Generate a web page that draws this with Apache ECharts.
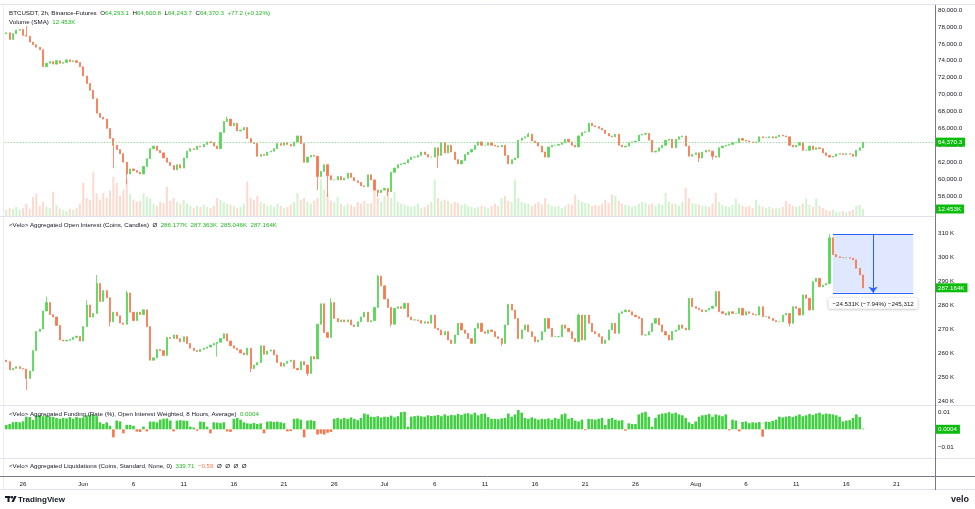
<!DOCTYPE html>
<html><head><meta charset="utf-8">
<script src="https://cdn.jsdelivr.net/npm/echarts@6/dist/echarts.min.js"></script>
<style>html,body{margin:0;padding:0;background:#fff}#c{width:975px;height:509px}</style>
</head><body><div id="c"></div>
<script>
// ---- data (8h candles, May 24 08:00 .. Aug 17 16:00) ----
const priceOpen0 = 77200;
const priceClose = [
77300,76500,
77200,77600,77700, 77000,76900,76200, 75900,75600,75300, 73300,73700,73900, 73600,74000,73700,
73800,74100,73900, 74000,73800,73300, 72200,71300,70500, 69500,67800,67300, 67100,66000,64800,
64000,63500,63000, 62000,60600,61200, 61000,60800,60600, 61500,62400,63600, 63900,63400,63100,
62500,62000,61600, 61100,61700,61300, 62500,63300,63600, 63500,63900,63800, 64100,64400,64300,
63900,63600,65500, 66800,67100,66300, 66600,65700,65800, 66100,64800,64300, 64200,62700,62900,
62800,63200,63300, 63600,64200,64000, 64300,64100,63900, 64400,65100,64200, 62000,62600,62800,
62700,60300,60900, 61700,60400,59900, 59900,60300,59900, 60100,60700,60200, 59800,59600,59200,
59100,60500,59900, 58700,58400,58700, 58900,58500,60800, 61300,61700,61800, 61900,62300,62600,
62600,62800,63200, 62900,62600,62600, 63700,62800,64300, 63100,64000,63200, 62300,61800,62200,
62900,63200,63500, 64000,64400,64000, 64000,64300,64000, 63900,63800,64000, 62800,61800,62300,
62500,64600,64850, 65000,65300,64500, 64300,63900,63200, 62600,63800,64000, 64000,64100,64300,
64700,64400,64000, 63800,65100,65500, 65600,66600,66300, 66200,66000,65800, 65400,65100,65000,
65300,64000,63800, 63900,64300,64400, 64500,65200,65300, 65400,64600,63200, 63300,63700,64000,
64600,64700,63700, 64700,65000,65100, 63900,62700,62900, 63100,62500,63200, 63400,63300,62700,
62600,63700,63900, 64000,64100,64300, 64300,64800,64600, 64500,64400,64300, 64400,65000,64900,
64900,65000,64850, 65000,65200,65100, 65000,64000,63800, 64000,64300,63400, 63400,63900,63500,
63700,63600,63100, 62800,62600,62700, 62950,63000,62900, 63000,62950,62700, 63400,63700,64370.3
];
const priceLowWicks = [[32,61300],[36,59400],[93,58700],[96,57900],[111,57900],[114,58000],[129,61300],[207,62000],[211,62300]];
const priceHighWicks = [[6,78100],[66,67400],[156,65500]];

const oiOpen0 = 257.0;
const oiClose = [
256.4,253.0,
253.6,254.3,253.5, 253.3,249.4,252.5, 261,269,270, 277.5,281,276, 275,271.5,265.4,
265,265.3,265.6, 266.5,267,265, 271,280,275, 276.5,289,281.5, 286,283,273,
277,275.5,272.5, 272,285,277, 273.5,277,276, 278,271,257, 258,261.5,261,
259,266.5,266, 267.5,266,264.7, 266.8,264,262, 261,260.6,261.5, 262,262.5,263.3,
264,264.5,266, 268,265,263, 262,261.3,260, 259.2,262,253.5, 255,256,263,
259.5,260.8,261.3, 259.2,256,254.5, 255.7,256.5,257, 253.6,253,256.4, 255,251.5,258.5,
257.5,272,280.5, 268.5,266.5,281, 274.4,273,273.8, 273,273.8,271.7, 271,273,275,
277,273,273.5, 279,292,288, 282.5,279,272, 278.6,279.3,278.6, 280.7,275,273.8,
273.8,273.5,272.4, 273,272.4,275.8, 270.3,269.6,267.5, 268.9,265.4,264, 267.5,272.4,269.6,
268.2,266,264, 270.3,272.4,268.9, 268.2,269.6,268.9, 266.8,266,264, 271.7,280.3,277.9,
274.4,266,269.6, 271.7,268.9,266.8, 264.7,265.4,268.9, 274.4,270.3,266.8, 266.8,266.8,271.7,
270.3,268.9,266, 264.7,275.8,265.4, 275.8,272.4,268.9, 268,266.8,264, 265.4,269.6,272.4,
268.2,276.5,277.2, 277.9,277.2,275.8, 275.1,274.4,267.5, 267.5,268.9,272.4, 274.4,271.7,268.9,
267.5,265.4,269, 269.6,271.7,270.3, 269.6,282.8,279.3, 278.6,278,277.2, 277.9,278.6,279.5,
285.6,277.2,276.5, 275.8,277.2,276.5, 276.5,278.6,275.8, 277.2,276.5,276, 275.8,279.3,275.1,
275.1,274.4,273.5, 273,273,275.8, 276.5,272.4,279.3, 278.6,275.8,284.2, 282.8,277.9,289.7,
291.1,287.6,288.3, 289,308,301, 300.1,299.8,299.7, 299.7,299.5,298.8, 295.3,292.5,287.164
];
const oiLowWicks = [[6,244.6],[31,271],[63,258.5],[73,252],[90,250.5],[115,271],[148,263],[234,271]];
const oiHighWicks = [[12,283.5],[24,282],[27,292.5],[36,286],[97,282.8],[111,292.5],[171,276.5],[246,309.6]];

const volumeK = [
11,14,
13,16,11, 14,22,13, 34,40,18, 25,16,14, 43,20,13,
11,9,13, 11,14,22, 59,32,29, 79,40,29, 41,32,45,
70,59,36, 47,65,40, 29,25,27, 40,34,31, 22,18,25,
23,52,27, 32,25,22, 29,22,18, 14,18,16, 20,16,14,
18,32,29, 25,22,20, 18,14,16, 22,61,32, 29,36,25,
22,18,20, 16,22,18, 14,16,20, 25,41,29, 32,25,22,
27,32,65, 47,40,27, 25,34,22, 18,22,20, 16,25,22,
27,22,23, 52,32,25, 36,47,32, 43,25,22, 20,18,16,
18,22,14, 16,20,25, 65,32,27, 29,27,22, 25,23,20,
22,18,16, 14,16,18, 16,14,18, 22,18,32, 36,27,25,
65,32,25, 23,22,18, 22,25,20, 32,22,18, 16,18,14,
18,22,20, 38,29,25, 23,22,18, 20,18,22, 29,23,38,
36,27,22, 20,18,16, 18,22,25, 23,20,22, 18,22,20,
41,25,22, 22,18,25, 50,32,23, 22,20,18, 18,16,22,
41,25,20, 18,16,20, 31,22,18, 16,18,14, 29,20,16,
14,16,14, 13,14,16, 27,22,18, 16,18,22, 31,20,16,
31,18,14, 11,9,11, 7,7,9, 7,9,11, 18,20,12.453
];

const fundingRate = [
0.0025,0.003,
0.004,0.0042,0.004, 0.0045,0.0072,0.007, 0.0053,0.0078,0.008, 0.0075,0.008,0.0072, 0.007,0.0065,0.006,
0.0065,0.0062,0.007, 0.006,0.007,0.0065, 0.0068,0.008,0.0082, 0.0085,0.0075,0.004, 0.003,0.004,0.002,
-0.0046,0.005,0.0045, -0.0023,0.0025,0.0025, 0.002,-0.0013,-0.0015, 0.0015,-0.0012,0.0044, 0.0044,0.004,0.0055,
0.006,0.0062,0.005, -0.0012,0.005,0.0052, 0.005,0.0048,0.0015, 0.001,-0.0008,0.0044, 0.0042,0.0015,-0.0023,
0.004,0.0038,0.0035, 0.004,-0.0012,-0.0015, 0.006,0.0065,0.0055, 0.004,0.0034,0.0032, 0.0036,0.003,0.0034,
-0.0023,0.0044,0.0045, 0.0042,0.0044,0.004, 0.0035,-0.0012,-0.001, 0.006,0.0062,0.0055, -0.0046,0.005,0.0052,
0.0048,-0.003,-0.0025, -0.003,-0.002,-0.0015, 0.006,0.0065,0.0058, 0.0065,0.006,0.0068, 0.006,0.0052,0.0065,
0.009,0.0085,0.0072, 0.007,0.0075,0.0068, 0.0072,0.007,0.0078, 0.0068,0.0075,0.0098, 0.01,0.0015,0.0072,
0.0075,0.0078,0.0074, 0.0072,0.008,0.0076, 0.0078,0.0082,0.0075, 0.0085,0.0078,0.0082, 0.008,0.0088,0.0082,
0.009,0.0092,0.0085, 0.0095,0.008,0.0088, 0.009,0.007,0.006, 0.006,0.0058,0.0062, 0.0065,0.009,0.0072,
0.0085,0.011,0.0095, 0.0065,0.006,0.0068, 0.0062,0.0055,0.006, 0.0058,0.0062,0.0055, 0.0065,0.006,0.0085,
0.009,0.006,0.0065, 0.005,0.0045,0.0055, -0.0005,0.006,0.0058, 0.0055,0.006,0.0065, 0.0025,0.006,0.0065,
0.0055,0.005,0.0052, -0.0008,0.0034,0.003, 0.003,0.0085,0.0095, 0.01,0.0072,0.0015, 0.0065,0.0085,0.009,
0.0092,0.0098,0.009, 0.0095,0.0085,0.008, 0.0065,0.004,0.003, 0.0045,0.0072,0.008, 0.0082,0.0088,0.0072,
0.0085,0.008,0.0075, 0.0085,-0.0006,0.0055, 0.005,-0.0012,0.0042, 0.0045,0.0035,0.004, 0.0038,0.0042,-0.0042,
0.0044,0.0042,0.0048, 0.0055,0.0072,0.0068, 0.0072,0.0075,0.007, 0.0078,0.0085,0.0075, 0.008,0.0088,0.0082,
0.009,0.0095,0.0085, 0.009,0.0088,0.0085, 0.008,0.0072,0.0045, 0.005,0.0052,0.0065, 0.0085,0.007,0.0004
];

const tickLabels = [['05-26','26'],['06-01','Jun'],['06-06','6'],['06-11','11'],['06-16','16'],['06-21','21'],
 ['06-26','26'],['07-01','Jul'],['07-06','6'],['07-11','11'],['07-16','16'],['07-21','21'],['07-26','26'],
 ['08-01','Aug'],['08-06','6'],['08-11','11'],['08-16','16'],['08-21','21']];

const lastPrice = 64370.3, lastVolume = 12.453, lastOI = 287.164, lastFunding = 0.0004;
const measureStartIdx = 247, measureEndIdx = 271, measureArrowIdx = 259;
const measureTop = 309.6, measureChange = -24.531;

// ---- build ----
const NCAT = 278;
const cats = [];
const t0 = Date.UTC(2024, 4, 24, 8);
const pad = n => String(n).padStart(2, '0');
for (let i = 0; i < NCAT; i++) {
  const d = new Date(t0 + i * 8 * 3600e3);
  cats.push(pad(d.getUTCMonth() + 1) + '-' + pad(d.getUTCDate()) + ' ' + pad(d.getUTCHours()));
}
const tickMap = new Map(tickLabels.map(([k, v]) => [k + ' 00', v]));

function buildCandles(closes, open0, lows, highs) {
  const out = closes.map((c, i) => {
    const o = i === 0 ? open0 : closes[i - 1];
    return [o, c, Math.min(o, c), Math.max(o, c)];
  });
  lows.forEach(([i, v]) => { out[i][2] = Math.min(out[i][2], v); });
  highs.forEach(([i, v]) => { out[i][3] = Math.max(out[i][3], v); });
  return out;
}
const priceCandles = buildCandles(priceClose, priceOpen0, priceLowWicks, priceHighWicks);
const oiCandles = buildCandles(oiClose, oiOpen0, oiLowWicks, oiHighWicks);

const UP = '#55d655', DOWN = '#f7784e';
const UPV = 'rgba(85,214,85,0.28)', DOWNV = 'rgba(247,120,78,0.28)';
const TXT = '#131722', GTXT = '#22b822', BADGE = '#0dbd0d';
const FONT = '"Liberation Sans", Arial, sans-serif';
const FS = 6.2;
const HIDE = 'rgba(0,0,0,0)';

const volumeData = volumeK.map((v, i) => ({ value: v, itemStyle: { color: priceCandles[i][1] >= priceCandles[i][0] ? UPV : DOWNV } }));
const fundingData = fundingRate.map(v => ({ value: v, itemStyle: { color: v >= 0 ? '#3fcf3f' : DOWN } }));

const L = 4.6, R = 40;
const badge = (txt) => ({
  show: true, position: 'end', distance: 1, formatter: txt,
  backgroundColor: BADGE, color: '#fff', fontSize: FS, fontFamily: FONT,
  padding: [2, 3, 1, 2], borderRadius: 0, opacity: 1
});

const chart = echarts.init(document.getElementById('c'), null, { renderer: 'canvas' });
const xBase = { type: 'category', data: cats, boundaryGap: true, axisLine: { show: false }, axisTick: { show: false }, axisLabel: { show: false }, splitLine: { show: false } };
const fmtPrice = v => v.toLocaleString('en-US', { minimumFractionDigits: 1, maximumFractionDigits: 1 });

chart.setOption({
  animation: false,
  backgroundColor: '#fff',
  grid: [
    { left: L, right: R, top: 5, height: 224.8 },
    { left: L, right: R, top: 5, height: 211 },
    { left: L, right: R, top: 217, height: 208 },
    { left: L, right: R, top: 406, height: 58.3 },
    { left: L, right: R, top: 459, height: 17 }
  ],
  xAxis: [
    Object.assign({ gridIndex: 0 }, xBase),
    Object.assign({ gridIndex: 1 }, xBase),
    Object.assign({ gridIndex: 2 }, xBase),
    Object.assign({ gridIndex: 3 }, xBase),
    Object.assign({}, xBase, {
      gridIndex: 4,
      axisLabel: {
        show: true, interval: (idx, val) => tickMap.has(val), formatter: val => tickMap.get(val) || '',
        color: TXT, fontSize: FS, fontFamily: FONT, margin: 5
      }
    })
  ],
  yAxis: [
    { gridIndex: 0, position: 'right', min: 54000, max: 80591, interval: 2000, splitLine: { show: false },
      axisLine: { show: false }, axisTick: { show: false },
      axisLabel: { showMaxLabel: false, color: TXT, fontSize: FS, fontFamily: FONT, margin: 3,
        formatter: v => (v >= 58000 && v <= 80000 && v % 2000 === 0) ? fmtPrice(v) : '' } },
    { gridIndex: 1, min: 0, max: 375.6, show: false },
    { gridIndex: 2, position: 'right', min: 230, max: 316.667, interval: 10, splitLine: { show: false },
      axisLine: { show: false }, axisTick: { show: false },
      axisLabel: { showMaxLabel: false, color: TXT, fontSize: FS, fontFamily: FONT, margin: 3,
        formatter: v => (v >= 240 && v <= 310) ? Math.round(v) + ' K' : '' } },
    { gridIndex: 3, position: 'right', min: -0.02, max: 0.01331, interval: 0.01, splitLine: { show: false },
      axisLine: { show: false }, axisTick: { show: false },
      axisLabel: { showMaxLabel: false, color: TXT, fontSize: FS, fontFamily: FONT, margin: 3,
        formatter: v => Math.abs(v - 0.01) < 1e-9 ? '0.01' : (Math.abs(v + 0.01) < 1e-9 ? '\u22120.01' : '') } },
    { gridIndex: 4, show: false, min: 0, max: 1 }
  ],
  series: [
    { type: 'bar', xAxisIndex: 1, yAxisIndex: 1, data: volumeData, barWidth: '60%', silent: true, z: 1,
      markLine: { silent: true, symbol: 'none', lineStyle: { color: HIDE, width: 0 },
        data: [{ yAxis: lastVolume, label: badge('12.453K') }] } },
    { type: 'candlestick', xAxisIndex: 0, yAxisIndex: 0, data: priceCandles, barWidth: '50%', z: 3,
      itemStyle: { color: UP, color0: DOWN, borderColor: UP, borderColor0: DOWN, borderWidth: 0.8 },
      markLine: { silent: true, symbol: 'none',
        lineStyle: { color: '#86d886', type: [1.5, 1.5], width: 0.8 },
        data: [{ yAxis: lastPrice, label: badge('64,370.3') }] } },
    { type: 'candlestick', xAxisIndex: 2, yAxisIndex: 2, data: oiCandles, barWidth: '50%', z: 3,
      itemStyle: { color: UP, color0: DOWN, borderColor: UP, borderColor0: DOWN, borderWidth: 0.8 },
      markArea: { silent: true, itemStyle: { color: 'rgba(41,98,255,0.15)' },
        label: { show: true, position: 'bottom', distance: 5, formatter: '\u221224.531K (\u22127.94%) \u2212245,312',
          backgroundColor: '#fff', color: TXT, fontSize: FS, fontFamily: FONT, padding: [3, 4, 2, 4], borderRadius: 2,
          shadowBlur: 3, shadowColor: 'rgba(0,0,0,0.3)', shadowOffsetY: 0.5 },
        data: [[{ xAxis: cats[measureStartIdx], yAxis: measureTop }, { xAxis: cats[measureEndIdx], yAxis: measureTop + measureChange }]] },
      markLine: { silent: true, symbol: 'none', animation: false,
        data: [
          { yAxis: lastOI, lineStyle: { color: HIDE, width: 0 }, label: badge('287.164K') },
          [{ xAxis: cats[measureStartIdx], yAxis: measureTop, lineStyle: { color: '#2962ff', width: 1, type: 'solid' }, label: { show: false } },
           { xAxis: cats[measureEndIdx], yAxis: measureTop }],
          [{ xAxis: cats[measureStartIdx], yAxis: measureTop + measureChange, lineStyle: { color: '#2962ff', width: 1, type: 'solid' }, label: { show: false } },
           { xAxis: cats[measureEndIdx], yAxis: measureTop + measureChange }],
          [{ xAxis: cats[measureArrowIdx], yAxis: measureTop, symbol: 'none', lineStyle: { color: '#2962ff', width: 1, type: 'solid' }, label: { show: false } },
           { xAxis: cats[measureArrowIdx], yAxis: measureTop + measureChange, symbol: 'arrow', symbolSize: [7, 6] }]
        ] } },
    { type: 'bar', xAxisIndex: 3, yAxisIndex: 3, data: fundingData, barWidth: '78%', silent: true,
      markLine: { silent: true, symbol: 'none', lineStyle: { color: HIDE, width: 0 },
        data: [{ yAxis: lastFunding, label: badge('0.0004') }] } }
  ],
  graphic: [
    { type: 'line', shape: { x1: 0, y1: 4.5, x2: 975, y2: 4.5 }, style: { stroke: '#e0e3eb', lineWidth: 1 }, silent: true },
    { type: 'line', shape: { x1: 3.5, y1: 5, x2: 3.5, y2: 490 }, style: { stroke: '#eceef2', lineWidth: 1 }, silent: true },
    { type: 'line', shape: { x1: 0, y1: 216.5, x2: 935, y2: 216.5 }, style: { stroke: '#e0e3eb', lineWidth: 1 }, silent: true, z: 10 },
    { type: 'line', shape: { x1: 0, y1: 405.5, x2: 975, y2: 405.5 }, style: { stroke: '#e0e3eb', lineWidth: 1 }, silent: true, z: 10 },
    { type: 'line', shape: { x1: 0, y1: 458.5, x2: 975, y2: 458.5 }, style: { stroke: '#e0e3eb', lineWidth: 1 }, silent: true, z: 10 },
    { type: 'line', shape: { x1: 0, y1: 476.5, x2: 975, y2: 476.5 }, style: { stroke: '#787b86', lineWidth: 1 }, silent: true, z: 10 },
    { type: 'line', shape: { x1: 0, y1: 489.5, x2: 975, y2: 489.5 }, style: { stroke: '#e0e3eb', lineWidth: 1 }, silent: true, z: 10 },
    { type: 'line', shape: { x1: 935.5, y1: 5, x2: 935.5, y2: 490 }, style: { stroke: '#787b86', lineWidth: 1 }, silent: true, z: 10 },
    { type: 'text', x: 9, y: 13, z: 20, silent: true, style: {
      text: 'BTCUSDT, 2h, Binance-Futures  O{g|64,293.1}  H{g|64,600.8}  L{g|64,243.7}  C{g|64,370.3}  {g|+77.2 (+0.12%)}',
      fill: TXT, fontSize: FS, fontFamily: FONT, verticalAlign: 'middle',
      rich: { g: { fill: GTXT, fontSize: FS, fontFamily: FONT } } } },
    { type: 'text', x: 9, y: 22, z: 20, silent: true, style: {
      text: 'Volume (SMA)  {g|12.453K}', fill: TXT, fontSize: FS, fontFamily: FONT, verticalAlign: 'middle',
      rich: { g: { fill: GTXT, fontSize: FS, fontFamily: FONT } } } },
    { type: 'text', x: 9, y: 225, z: 20, silent: true, style: {
      text: '<Velo> Aggregated Open Interest (Coins, Candles)  \u00d8  {g|286.177K}  {g|287.363K}  {g|285.046K}  {g|287.164K}',
      fill: TXT, fontSize: FS, fontFamily: FONT, verticalAlign: 'middle',
      rich: { g: { fill: GTXT, fontSize: FS, fontFamily: FONT } } } },
    { type: 'text', x: 9, y: 414, z: 20, silent: true, style: {
      text: '<Velo> Aggregated Funding (Rate (%), Open Interest Weighted, 8 Hours, Average)  {g|0.0004}',
      fill: TXT, fontSize: FS, fontFamily: FONT, verticalAlign: 'middle',
      rich: { g: { fill: GTXT, fontSize: FS, fontFamily: FONT } } } },
    { type: 'text', x: 9, y: 466.5, z: 20, silent: true, style: {
      text: '<Velo> Aggregated Liquidations (Coins, Standard, None, 0)  {g|339.71}  {r|\u22120.59}  \u00d8  \u00d8  \u00d8  \u00d8',
      fill: TXT, fontSize: FS, fontFamily: FONT, verticalAlign: 'middle',
      rich: { g: { fill: GTXT, fontSize: FS, fontFamily: FONT }, r: { fill: DOWN, fontSize: FS, fontFamily: FONT } } } },
    { type: 'rect', shape: { x: 5, y: 496, width: 5.5, height: 2 }, style: { fill: TXT }, silent: true },
    { type: 'rect', shape: { x: 7.5, y: 496, width: 2, height: 6 }, style: { fill: TXT }, silent: true },
    { type: 'circle', shape: { cx: 12, cy: 497.2, r: 1.2 }, style: { fill: TXT }, silent: true },
    { type: 'polygon', shape: { points: [[11.5, 502], [14.3, 496], [16.6, 496], [13.8, 502]] }, style: { fill: TXT }, silent: true },
    { type: 'text', x: 18, y: 499.3, silent: true, style: { text: 'TradingView', fill: TXT, fontSize: 8, fontWeight: 'bold', fontFamily: FONT, verticalAlign: 'middle' } },
    { type: 'text', x: 969, y: 500, silent: true, style: { text: 'velo', fill: TXT, fontSize: 9, fontWeight: 'bold', fontFamily: FONT, verticalAlign: 'middle', align: 'right' } }
  ]
});
</script></body></html>
